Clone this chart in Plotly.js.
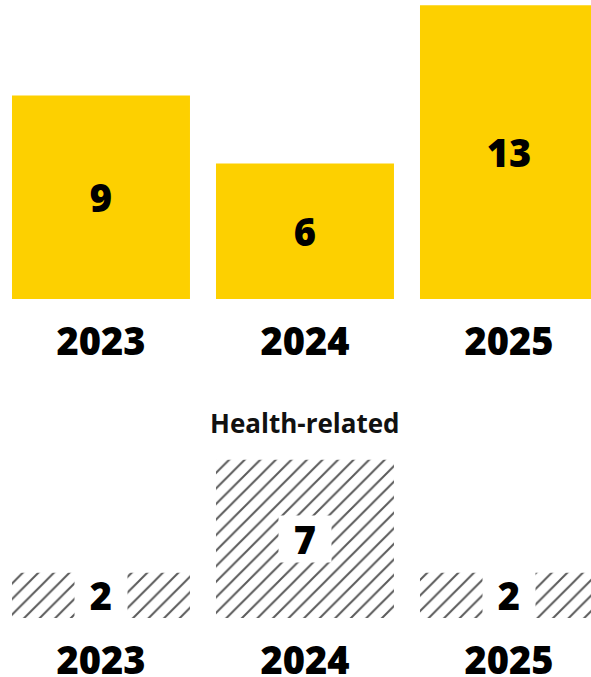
<!DOCTYPE html>
<html>
<head>
<meta charset="utf-8">
<script src="https://cdn.plot.ly/plotly-3.0.1.min.js"></script>
<style>
html,body{margin:0;padding:0;background:#fff;}
#chart{width:591px;height:677px;}
</style>
</head>
<body>
<div id="chart"></div>
<script>
const years = ["2023", "2024", "2025"];
const totalCases = [9, 6, 13];
const healthRelated = [2, 7, 2];
const healthTitle = "Health-related";

const FONT = "Open Sans ExtraBold, Open Sans, Noto Sans, sans-serif";
const YELLOW = "#FDD000";

const traces = [
  {
    type: "bar",
    x: years,
    y: totalCases,
    xaxis: "x",
    yaxis: "y",
    marker: {color: YELLOW, line: {width: 0}},
    text: totalCases.map(String),
    textposition: "inside",
    insidetextanchor: "middle",
    textangle: 0,
    textfont: {family: FONT, size: 38, color: "#000", weight: 800},
    hoverinfo: "skip"
  },
  {
    type: "bar",
    x: years,
    y: healthRelated,
    xaxis: "x2",
    yaxis: "y2",
    marker: {
      color: "#ffffff",
      line: {width: 0},
      pattern: {shape: "/", size: 11, solidity: 0.18, fgcolor: "#5a5a5a", bgcolor: "#ffffff"}
    },
    hoverinfo: "skip"
  }
];

const annotations = healthRelated.map((v, i) => ({
  x: i,
  y: v / 2,
  xref: "x2",
  yref: "y2",
  text: String(v),
  showarrow: false,
  bgcolor: "#ffffff",
  width: 48,
  height: 42,
  borderpad: 2,
  font: {family: FONT, size: 38, color: "#000", weight: 800}
}));
annotations.push({
  x: 1,
  y: 1 - 423 / 677,
  xref: "x2",
  yref: "paper",
  yanchor: "middle",
  text: healthTitle,
  showarrow: false,
  font: {family: "Open Sans, Noto Sans, sans-serif", size: 26, color: "#111", weight: 700}
});

const xCommon = {
  type: "category",
  range: [-0.495, 2.402],
  showgrid: false,
  zeroline: false,
  showline: false,
  ticks: "",
  ticklabelstandoff: 17,
  tickfont: {family: FONT, size: 38, color: "#000", weight: 800},
  fixedrange: true
};
const yCommon = {
  showgrid: false,
  zeroline: false,
  showline: false,
  showticklabels: false,
  ticks: "",
  fixedrange: true
};

const layout = {
  width: 591,
  height: 677,
  margin: {l: 0, r: 0, t: 0, b: 0},
  paper_bgcolor: "#ffffff",
  plot_bgcolor: "#ffffff",
  showlegend: false,
  bargap: 0.1275,
  xaxis: Object.assign({}, xCommon, {anchor: "y", domain: [0, 1]}),
  yaxis: Object.assign({}, yCommon, {anchor: "x", domain: [1 - 299 / 677, 1], range: [0, 13.23]}),
  xaxis2: Object.assign({}, xCommon, {anchor: "y2", domain: [0, 1]}),
  yaxis2: Object.assign({}, yCommon, {anchor: "x2", domain: [(677 - 618) / 677, (677 - 440) / 677], range: [0, 178 / 22.6]}),
  annotations: annotations
};

Plotly.newPlot("chart", traces, layout, {displayModeBar: false, staticPlot: true});
</script>
</body>
</html>
